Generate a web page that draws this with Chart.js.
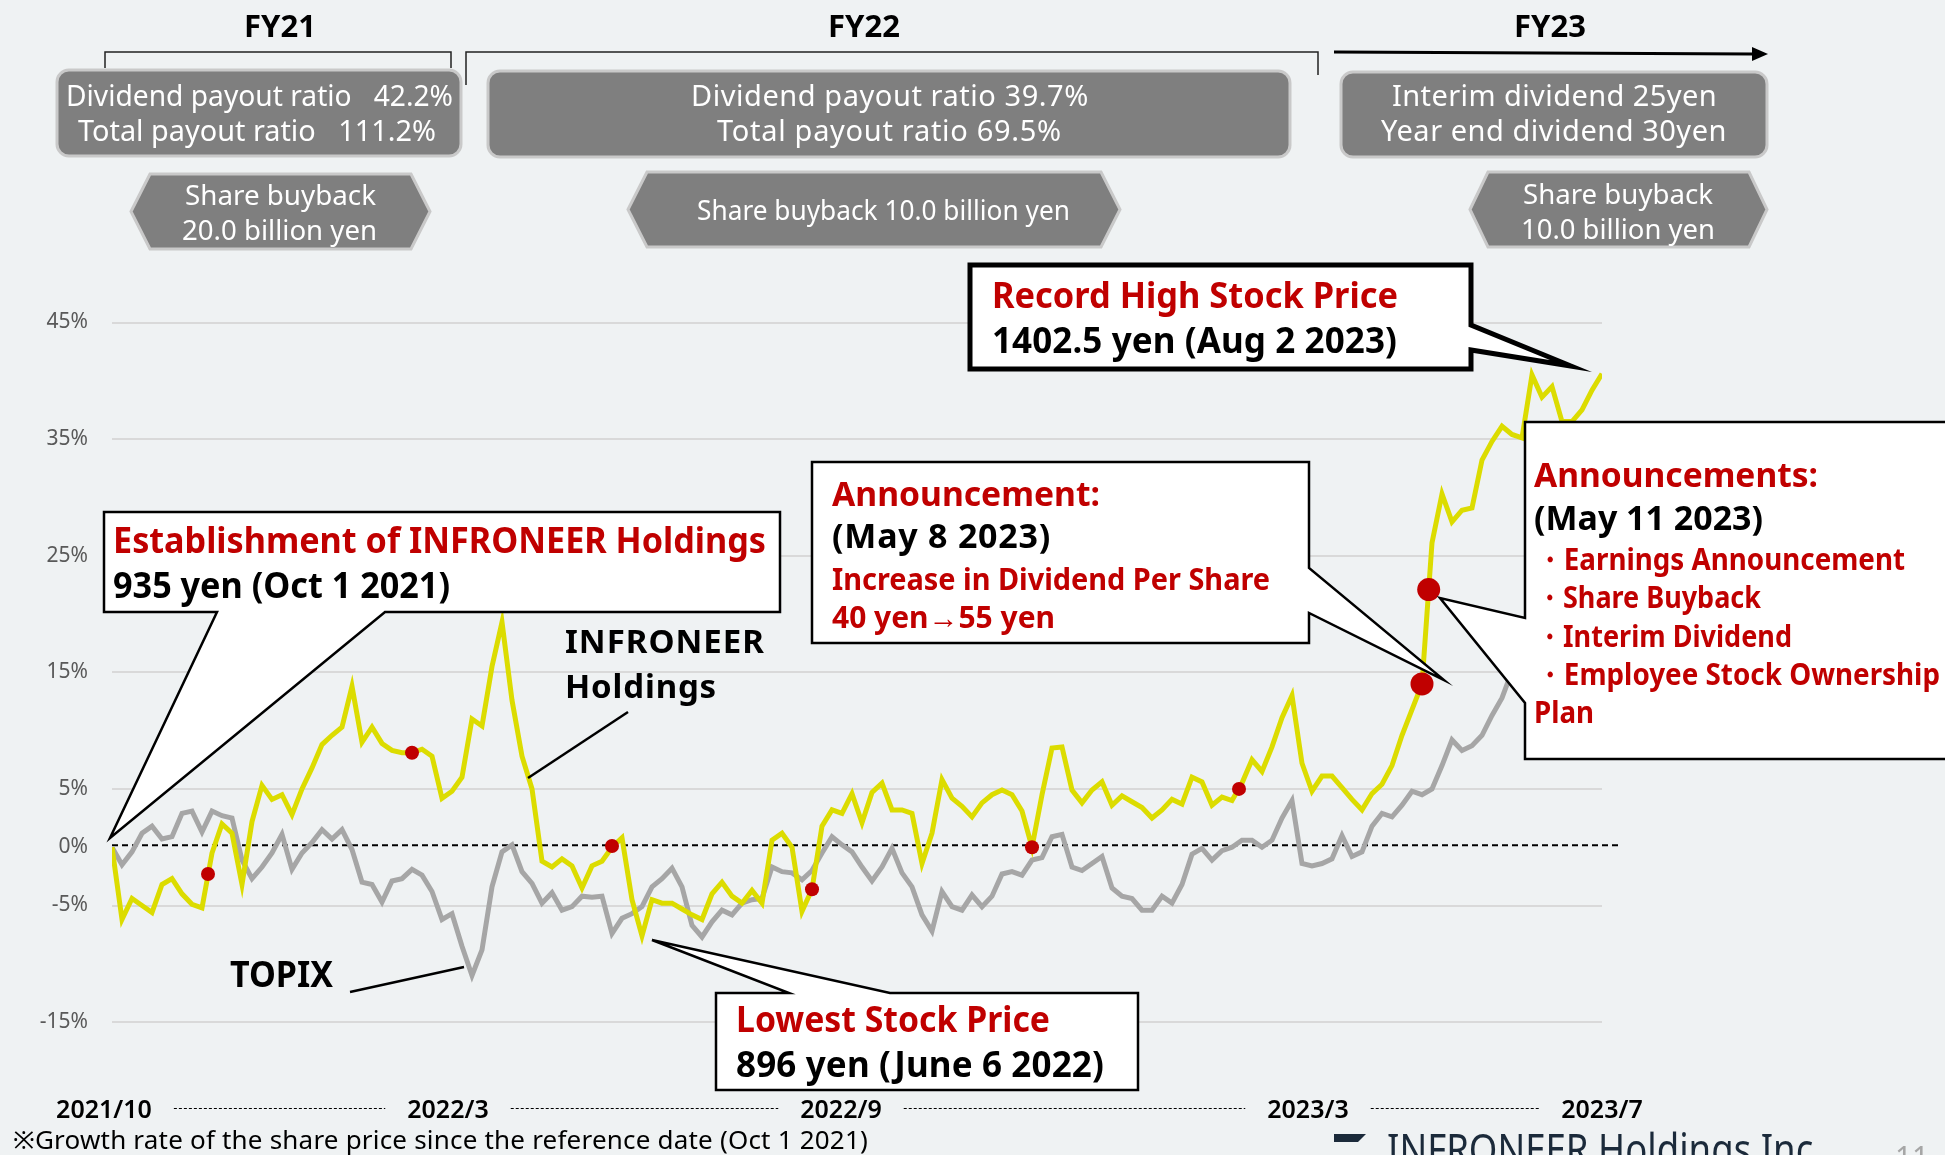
<!DOCTYPE html>
<html>
<head>
<meta charset="utf-8">
<script src="https://cdn.jsdelivr.net/npm/chart.js@4.4.0/dist/chart.umd.min.js"></script>
<style>
  html, body { margin: 0; padding: 0; background: #eff2f3; }
  canvas { display: block; }
</style>
</head>
<body>
<canvas id="stockChart" width="1945" height="1155"></canvas>
<script>
'use strict'

// growth rate (%) since Oct 1 2021, sampled left to right
const infroneer = [
  0.0, -6.2, -4.4, -5.0, -5.6, -3.2, -2.7, -4.0, -4.9, -5.2,
  -0.5, 2.0, 1.2, -3.2, 2.2, 5.3, 4.1, 4.5, 2.8, 5.0,
  6.8, 8.8, 9.6, 10.3, 13.8, 9.0, 10.3, 8.9, 8.3, 8.1,
  8.1, 8.4, 7.8, 4.2, 4.8, 6.0, 11.0, 10.4, 15.5, 19.3,
  12.6, 7.8, 5.0, -1.2, -1.7, -1.0, -1.6, -3.5, -1.6, -1.2,
  0.0, 0.8, -4.5, -7.6, -4.5, -4.8, -4.8, -5.3, -5.8, -6.2,
  -4.0, -3.0, -4.2, -4.8, -3.7, -4.8, 0.6, 1.2, 0.0, -5.5,
  -3.6, 1.8, 3.2, 2.9, 4.6, 2.1, 4.7, 5.5, 3.2, 3.2,
  2.9, -1.4, 1.2, 5.8, 4.2, 3.5, 2.6, 3.8, 4.5, 4.9,
  4.5, 3.1, 0.0, 4.5, 8.5, 8.6, 4.9, 3.8, 4.9, 5.6,
  3.6, 4.4, 3.9, 3.4, 2.5, 3.2, 4.1, 3.7, 6.0, 5.6,
  3.6, 4.3, 4.0, 5.5, 7.5, 6.5, 8.6, 11.1, 13.0, 7.2,
  4.8, 6.1, 6.1, 5.1, 4.1, 3.2, 4.6, 5.4, 7.0, 9.6,
  11.8, 14.0, 26.1, 30.3, 27.9, 28.9, 29.1, 33.2, 34.8, 36.1,
  35.4, 35.1, 40.5, 38.6, 39.5, 36.5, 36.5, 37.5, 39.2, 40.6
];

const topix = [
  0.0, -1.5, -0.4, 1.2, 1.8, 0.7, 0.9, 2.9, 3.1, 1.3,
  3.1, 2.7, 2.5, -1.1, -2.7, -1.7, -0.5, 1.1, -1.9, -0.5,
  0.4, 1.5, 0.7, 1.5, -0.2, -3.0, -3.2, -4.7, -2.9, -2.7,
  -1.9, -2.4, -3.8, -6.2, -5.7, -8.5, -11.0, -8.8, -3.4, -0.4,
  0.2, -2.1, -3.1, -4.8, -3.9, -5.4, -5.1, -4.2, -4.3, -4.2,
  -7.4, -6.1, -5.7, -5.1, -3.4, -2.7, -1.8, -3.4, -6.7, -7.7,
  -6.4, -5.4, -5.8, -4.8, -4.5, -4.4, -1.7, -2.1, -2.2, -2.8,
  -2.0, -0.5, 0.9, 0.2, -0.4, -1.7, -2.9, -1.7, -0.1, -2.2,
  -3.4, -5.8, -7.2, -3.8, -5.1, -5.4, -4.1, -5.1, -4.2, -2.3,
  -2.1, -2.4, -1.1, -0.9, 0.9, 1.1, -1.7, -2.0, -1.4, -0.8,
  -3.5, -4.2, -4.4, -5.4, -5.4, -4.2, -4.8, -3.2, -0.6, -0.1,
  -1.1, -0.3, 0.0, 0.6, 0.6, 0.0, 0.6, 2.5, 4.0, -1.4,
  -1.6, -1.4, -1.0, 1.0, -0.8, -0.4, 1.8, 2.9, 2.6, 3.6,
  4.8, 4.5, 5.0, 7.0, 9.2, 8.3, 8.7, 9.6, 11.3, 12.8,
  15.1, 15.6, 16.2, 17.0, 16.5, 17.5, 18.0, 17.2, 18.5, 19.0
];

// event markers (sample position, growth rate)
const eventIdx = [9.6, 30, 50, 70, 92, 112.7];
const eventVal = [-2.3, 8.1, 0.1, -3.6, 0.0, 5.0];
const announceIdx = [131, 131.67];
const announceVal = [14.0, 22.1];

const yTicks = [45, 35, 25, 15, 5, 0, -5, -15];
const xTickPos = [-0.8, 33.6, 72.9, 119.6, 149];
const xTickLabels = ['2021/10', '2022/3', '2022/9', '2023/3', '2023/7'];

const FONT = '"Noto Sans", "Open Sans", sans-serif';
const RED = '#c00000';

function fitText(ctx, s, x, y, size, width, color, weight) {
    ctx.save();
    ctx.font = (weight || 'normal') + ' ' + size + 'px ' + FONT;
    ctx.fillStyle = color;
    ctx.textAlign = 'left';
    ctx.textBaseline = 'alphabetic';
    const natural = ctx.measureText(s).width;
    if (natural > width) {
        ctx.fillText(s, x, y, width);
    } else {
        if ('letterSpacing' in ctx) ctx.letterSpacing = ((width - natural) / s.length).toFixed(2) + 'px';
        ctx.fillText(s, x, y);
    }
    ctx.restore();
}

function centerText(ctx, s, cx, y, size, width, color, weight) {
    fitText(ctx, s, cx - width / 2, y, size, width, color, weight);
}

function grayBox(ctx, x, y, w, h) {
    ctx.beginPath();
    ctx.roundRect(x, y, w, h, 12);
    ctx.fillStyle = '#7f7f7f';
    ctx.fill();
    ctx.lineWidth = 3;
    ctx.strokeStyle = '#c9c9c9';
    ctx.stroke();
}

function grayHex(ctx, x1, x2, top, bot, inset) {
    const mid = (top + bot) / 2;
    ctx.beginPath();
    ctx.moveTo(x1, mid);
    ctx.lineTo(x1 + inset, top);
    ctx.lineTo(x2 - inset, top);
    ctx.lineTo(x2, mid);
    ctx.lineTo(x2 - inset, bot);
    ctx.lineTo(x1 + inset, bot);
    ctx.closePath();
    ctx.fillStyle = '#7f7f7f';
    ctx.fill();
    ctx.lineWidth = 3;
    ctx.strokeStyle = '#c9c9c9';
    ctx.stroke();
}

function callout(ctx, pts, lw) {
    ctx.beginPath();
    ctx.moveTo(pts[0][0], pts[0][1]);
    for (let i = 1; i < pts.length; i++) ctx.lineTo(pts[i][0], pts[i][1]);
    ctx.closePath();
    ctx.fillStyle = '#ffffff';
    ctx.fill();
    ctx.lineWidth = lw;
    ctx.lineJoin = 'miter';
    ctx.strokeStyle = '#000000';
    ctx.stroke();
}

function line(ctx, x1, y1, x2, y2, lw) {
    ctx.beginPath();
    ctx.moveTo(x1, y1);
    ctx.lineTo(x2, y2);
    ctx.lineWidth = lw;
    ctx.strokeStyle = '#000000';
    ctx.stroke();
}

const backdrop = {
    id: 'backdrop',
    beforeDraw(chart) {
        const ctx = chart.ctx;
        ctx.save();
        ctx.fillStyle = '#eff2f3';
        ctx.fillRect(0, 0, chart.width, chart.height);
        ctx.restore();
    },
    beforeDatasetsDraw(chart) {
        // dashed zero line
        const ctx = chart.ctx;
        const y0 = chart.scales.y.getPixelForValue(0) - 2;
        ctx.save();
        ctx.setLineDash([6, 4]);
        line(ctx, chart.chartArea.left, y0, chart.chartArea.right + 16, y0, 2);
        ctx.restore();
    },
    afterDraw(chart) {
        // dotted connectors between the period labels
        const ctx = chart.ctx;
        const xs = chart.scales.x;
        ctx.save();
        ctx.font = '600 25px ' + FONT;
        ctx.setLineDash([3, 2]);
        for (let k = 0; k < xTickPos.length - 1; k++) {
            const a = xs.getPixelForValue(xTickPos[k]) + ctx.measureText(xTickLabels[k]).width / 2 + 22;
            const b = xs.getPixelForValue(xTickPos[k + 1]) - ctx.measureText(xTickLabels[k + 1]).width / 2 - 22;
            line(ctx, a, 1108.5, b, 1108.5, 1);
        }
        ctx.restore();
    }
};

const annotations = {
    id: 'annotations',
    afterDatasetsDraw(chart) {
        const ctx = chart.ctx;
        ctx.save();

        // fiscal year headers
        ctx.font = 'bold 31px ' + FONT;
        ctx.fillStyle = '#000';
        ctx.textAlign = 'center';
        ctx.fillText('FY21', 280, 37);
        ctx.fillText('FY22', 864, 37);
        ctx.fillText('FY23', 1550, 37);

        ctx.strokeStyle = '#222';
        ctx.lineWidth = 1.5;
        ctx.beginPath();
        ctx.moveTo(105, 68); ctx.lineTo(105, 52); ctx.lineTo(451, 52); ctx.lineTo(451, 68);
        ctx.moveTo(466, 85); ctx.lineTo(466, 52); ctx.lineTo(1318, 52); ctx.lineTo(1318, 75);
        ctx.stroke();
        line(ctx, 1334, 52, 1753, 54, 3);
        ctx.beginPath();
        ctx.moveTo(1752, 47); ctx.lineTo(1768, 54); ctx.lineTo(1752, 61); ctx.closePath();
        ctx.fillStyle = '#000';
        ctx.fill();

        // shareholder return boxes
        grayBox(ctx, 57, 70, 404, 86);
        grayBox(ctx, 488, 71, 802, 86);
        grayBox(ctx, 1341, 72, 426, 85);
        centerText(ctx, 'Dividend payout ratio   42.2%', 259.5, 106, 29, 387, '#fff');
        centerText(ctx, 'Total payout ratio   111.2%', 257, 141, 29, 358, '#fff');
        centerText(ctx, 'Dividend payout ratio 39.7%', 890, 106, 29, 398, '#fff');
        centerText(ctx, 'Total payout ratio 69.5%', 889.5, 141, 29, 345, '#fff');
        centerText(ctx, 'Interim dividend 25yen', 1554.5, 106, 29, 325, '#fff');
        centerText(ctx, 'Year end dividend 30yen', 1554, 141, 29, 346, '#fff');

        grayHex(ctx, 131, 430, 174, 249, 19);
        grayHex(ctx, 628, 1120, 172, 247, 19);
        grayHex(ctx, 1470, 1767, 172, 247, 18);
        centerText(ctx, 'Share buyback', 280.5, 205, 28, 191, '#fff');
        centerText(ctx, '20.0 billion yen', 279.5, 240, 28, 195, '#fff');
        centerText(ctx, 'Share buyback 10.0 billion yen', 883.5, 220, 28, 373, '#fff');
        centerText(ctx, 'Share buyback', 1618, 204, 28, 190, '#fff');
        centerText(ctx, '10.0 billion yen', 1618, 239, 28, 194, '#fff');

        // series labels
        fitText(ctx, 'INFRONEER', 565, 653, 33, 200, '#000', 'bold');
        fitText(ctx, 'Holdings', 565, 698, 33, 152, '#000', 'bold');
        line(ctx, 628, 712, 528, 778, 2.5);
        fitText(ctx, 'TOPIX', 230, 987, 35, 103, '#000', 'bold');
        line(ctx, 350, 992, 464, 967, 2.5);

        // callouts
        callout(ctx, [[104, 512], [780, 512], [780, 612], [385, 612], [110, 838], [217, 612], [104, 612]], 2.5);
        fitText(ctx, 'Establishment of INFRONEER Holdings', 113, 553, 35, 653, RED, 'bold');
        fitText(ctx, '935 yen (Oct 1 2021)', 113, 598, 35, 337, '#000', 'bold');

        callout(ctx, [[716, 993], [789, 993], [652, 940], [890, 993], [1138, 993], [1138, 1090], [716, 1090]], 2.5);
        fitText(ctx, 'Lowest Stock Price', 736, 1032, 35, 314, RED, 'bold');
        fitText(ctx, '896 yen (June 6 2022)', 736, 1077, 35, 368, '#000', 'bold');

        callout(ctx, [[970, 265], [1471, 265], [1471, 325], [1571, 366], [1471, 350], [1471, 369], [970, 369]], 5);
        fitText(ctx, 'Record High Stock Price', 992, 308, 35, 406, RED, 'bold');
        fitText(ctx, '1402.5 yen (Aug 2 2023)', 992, 353, 35, 405, '#000', 'bold');

        callout(ctx, [[812, 462], [1309, 462], [1309, 568], [1444, 680], [1309, 613], [1309, 643], [812, 643]], 2.5);
        fitText(ctx, 'Announcement:', 832, 506, 34, 268, RED, 'bold');
        fitText(ctx, '(May 8 2023)', 832, 548, 34, 219, '#000', 'bold');
        fitText(ctx, 'Increase in Dividend Per Share', 832, 590, 30, 438, RED, 'bold');
        fitText(ctx, '40 yen\u219255 yen', 832, 628, 30, 223, RED, 'bold');

        callout(ctx, [[1525, 422], [1960, 422], [1960, 759], [1525, 759], [1525, 703], [1440, 598], [1525, 618]], 2.5);
        fitText(ctx, 'Announcements:', 1534, 487, 34, 284, RED, 'bold');
        fitText(ctx, '(May 11 2023)', 1534, 530, 34, 229, '#000', 'bold');
        fitText(ctx, '\u30FBEarnings Announcement', 1536, 570, 30, 369, RED, 'bold');
        fitText(ctx, '\u30FBShare Buyback', 1536, 608, 30, 225, RED, 'bold');
        fitText(ctx, '\u30FBInterim Dividend', 1536, 647, 30, 256, RED, 'bold');
        fitText(ctx, '\u30FBEmployee Stock Ownership', 1536, 685, 30, 404, RED, 'bold');
        fitText(ctx, 'Plan', 1534, 723, 30, 60, RED, 'bold');

        // footnote and footer
        fitText(ctx, '\u203BGrowth rate of the share price since the reference date (Oct 1 2021)', 13, 1149, 26, 855, '#000');
        ctx.fillStyle = '#1b2a3a';
        ctx.beginPath();
        ctx.moveTo(1334, 1134); ctx.lineTo(1366, 1134); ctx.lineTo(1358, 1142); ctx.lineTo(1334, 1142);
        ctx.closePath();
        ctx.fill();
        fitText(ctx, 'INFRONEER Holdings Inc.', 1387, 1165, 44, 436, '#1b2a3a');
        fitText(ctx, '11', 1895, 1168, 30, 34, '#a6a6a6');

        ctx.restore();
    }
};

const toPoints = vals => vals.map((v, i) => ({ x: i, y: v }));

const stockChart = new Chart(document.getElementById('stockChart'), {
    type: 'line',
    data: {
        datasets: [
            {
                label: 'Announcements',
                data: announceIdx.map((x, k) => ({ x: x, y: announceVal[k] })),
                showLine: false,
                pointRadius: 11.5,
                pointBackgroundColor: RED,
                pointBorderWidth: 0
            },
            {
                label: 'Events',
                data: eventIdx.map((x, k) => ({ x: x, y: eventVal[k] })),
                showLine: false,
                pointRadius: 7,
                pointBackgroundColor: RED,
                pointBorderWidth: 0
            },
            {
                label: 'INFRONEER Holdings',
                data: toPoints(infroneer),
                borderColor: '#dcdc00',
                borderWidth: 5,
                pointRadius: 0,
                tension: 0
            },
            {
                label: 'TOPIX',
                data: toPoints(topix),
                borderColor: '#a6a6a6',
                borderWidth: 5,
                pointRadius: 0,
                tension: 0
            }
        ]
    },
    options: {
        responsive: false,
        animation: false,
        devicePixelRatio: 1,
        layout: { padding: { left: 0, right: 343, top: 322.5, bottom: 0 } },
        plugins: { legend: { display: false }, tooltip: { enabled: false } },
        scales: {
            x: {
                type: 'linear',
                min: 0,
                max: 149,
                grid: { display: false },
                border: { display: false },
                afterBuildTicks: s => { s.ticks = xTickPos.map(v => ({ value: v })); },
                afterFit: s => { s.height = 74.6; },
                ticks: {
                    autoSkip: false,
                    maxRotation: 0,
                    padding: 7,
                    color: '#000',
                    font: { family: FONT, size: 25, weight: '600' },
                    callback: (v, i) => xTickLabels[i]
                }
            },
            y: {
                min: -20,
                max: 45,
                afterBuildTicks: s => { s.ticks = yTicks.map(v => ({ value: v })); },
                afterFit: s => { s.width = 112; },
                grid: {
                    drawTicks: false,
                    lineWidth: 2,
                    color: c => (c.tick && c.tick.value === 0) ? 'rgba(0,0,0,0)' : '#d9d9d9'
                },
                border: { display: false },
                ticks: {
                    padding: 24,
                    color: '#595959',
                    font: { family: FONT, size: 21 },
                    callback: v => v + '%'
                }
            }
        }
    },
    plugins: [backdrop, annotations]
});
</script>
</body>
</html>
